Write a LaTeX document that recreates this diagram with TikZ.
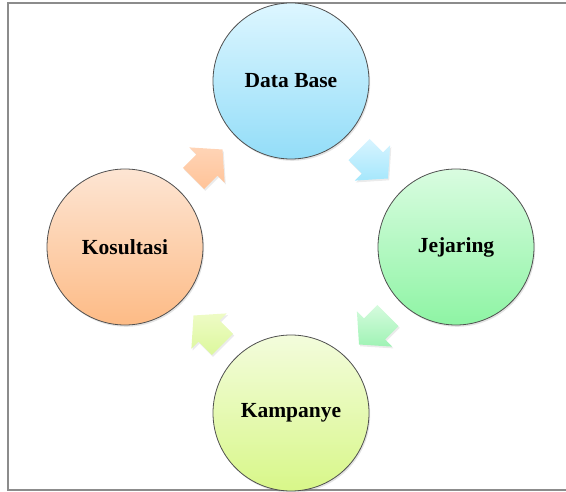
\documentclass[tikz,border=0pt]{standalone}
\usepackage{fontspec}
\setmainfont{Liberation Serif}
\usetikzlibrary{calc,shadows}

\definecolor{framegray}{HTML}{8C8C8C}
\definecolor{rimgray}{HTML}{4F4F4F}
\definecolor{dbtop}{HTML}{DDF6FF}
\definecolor{dbbot}{HTML}{93DDF8}
\definecolor{jjtop}{HTML}{D9FCE0}
\definecolor{jjbot}{HTML}{8EF4A4}
\definecolor{kmtop}{HTML}{F3FCDC}
\definecolor{kmbot}{HTML}{D8F789}
\definecolor{kstop}{HTML}{FDE5D3}
\definecolor{ksbot}{HTML}{FDBB86}
\definecolor{abtop}{HTML}{D8F4FF}
\definecolor{abbot}{HTML}{A5E7FC}
\definecolor{agtop}{HTML}{D6FBDE}
\definecolor{agbot}{HTML}{9FF3B4}
\definecolor{aytop}{HTML}{EEFBC6}
\definecolor{aybot}{HTML}{DCF89C}
\definecolor{aotop}{HTML}{FFD4B6}
\definecolor{aobot}{HTML}{FFC398}

% block arrow centred on coordinate #1, heading #2 degrees, style #3
\newcommand{\cycarrow}[3]{%
  \path[flow,#3]
    ($(#1)+(#2:-20.5)+(#2+90:15)$) --
    ($(#1)+(#2:-1.5)+(#2+90:15)$) --
    ($(#1)+(#2:-1.5)+(#2+90:25)$) --
    ($(#1)+(#2:20.5)$) --
    ($(#1)+(#2:-1.5)+(#2-90:25)$) --
    ($(#1)+(#2:-1.5)+(#2-90:15)$) --
    ($(#1)+(#2:-20.5)+(#2-90:15)$) -- cycle;}

\begin{document}
\begin{tikzpicture}[x=1pt,y=1pt,
  stage/.style={circle, minimum size=156pt, inner sep=0pt,
    draw=rimgray, line width=0.8pt,
    font=\fontsize{21.5}{24}\selectfont\bfseries,
    drop shadow={opacity=0.22, shadow xshift=1.2pt, shadow yshift=-1.8pt}},
  flow/.style={drop shadow={opacity=0.16, shadow xshift=1.2pt, shadow yshift=-1.8pt}},
]
\useasboundingbox (0,0) rectangle (566,491);

% open frame
\draw[framegray, line width=1.6pt] (570,488) -- (8,488) -- (8,1) -- (570,1);

% the four stages
\node[stage, top color=dbtop, bottom color=dbbot] (db)   at (291,410) {Data Base};
\node[stage, top color=jjtop, bottom color=jjbot] (jej)  at (456,244) {Jejaring};
\node[stage, top color=kmtop, bottom color=kmbot] (kamp) at (291,78)  {Kampanye};
\node[stage, top color=kstop, bottom color=ksbot] (kos)  at (125,244) {Kosultasi};

% arrows between neighbouring stages, clockwise
\coordinate (m1) at ($(db)!0.5!(jej)$);
\coordinate (m2) at ($(jej)!0.5!(kamp)$);
\coordinate (m3) at ($(kamp)!0.5!(kos)$);
\coordinate (m4) at ($(kos)!0.5!(db)$);
\cycarrow{m1}{-45}{top color=abtop, bottom color=abbot}
\cycarrow{m2}{-135}{top color=agtop, bottom color=agbot}
\cycarrow{m3}{135}{top color=aytop, bottom color=aybot}
\cycarrow{m4}{45}{top color=aotop, bottom color=aobot}
\end{tikzpicture}
\end{document}
